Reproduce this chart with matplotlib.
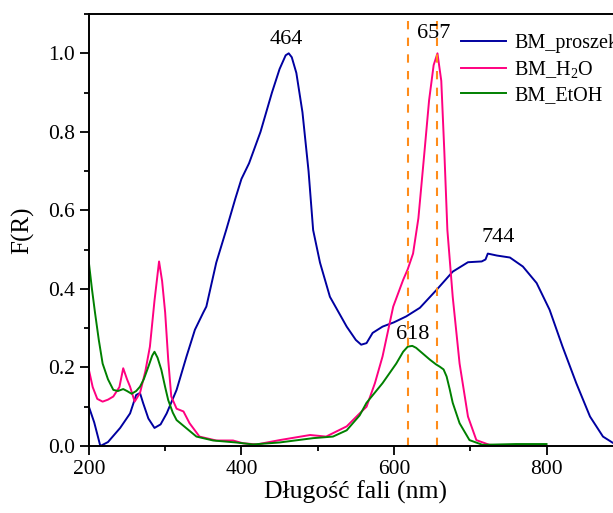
import matplotlib
matplotlib.use("Agg")
import matplotlib.pyplot as plt
from matplotlib.ticker import MultipleLocator

plt.rcParams['font.family'] = ['Liberation Serif', 'DejaVu Serif']
plt.rcParams['mathtext.fontset'] = 'custom'
plt.rcParams['mathtext.rm'] = 'Liberation Serif'
plt.rcParams['mathtext.it'] = 'Liberation Serif:italic'

# wavelength (nm) / F(R)
proszek_x = [200, 207, 215, 225, 241, 254, 262, 267, 271, 278, 286, 294, 302, 315, 328, 339, 350, 354,
             367, 380, 392, 400, 410, 425, 440, 450, 458, 462, 466, 472, 480, 488, 494, 503, 516, 538,
             550, 557, 564, 572, 585, 600, 616, 634, 656, 677, 697, 715, 720, 723, 735, 752, 769, 787,
             804, 821, 839, 857, 874, 887, 900]
proszek_y = [0.10, 0.06, 0.0, 0.01, 0.046, 0.083, 0.13, 0.135, 0.11, 0.07, 0.046, 0.055, 0.083, 0.143,
             0.228, 0.296, 0.34, 0.355, 0.467, 0.55, 0.63, 0.68, 0.72, 0.80, 0.90, 0.96, 0.995, 1.0,
             0.99, 0.95, 0.85, 0.70, 0.55, 0.467, 0.38, 0.304, 0.27, 0.258, 0.262, 0.288, 0.304, 0.315,
             0.33, 0.352, 0.398, 0.444, 0.468, 0.47, 0.475, 0.49, 0.485, 0.48, 0.457, 0.415, 0.347,
             0.253, 0.16, 0.075, 0.024, 0.008, 0.0]

h2o_x = [200, 205, 211, 218, 225, 232, 240, 245, 250, 254, 260, 267, 274, 280, 286, 292, 296, 300, 304,
         308, 315, 324, 332, 345, 367, 389, 402, 420, 450, 490, 511, 538, 555, 564, 575, 585, 599, 612,
         618, 625, 632, 640, 646, 652, 657, 662, 666, 670, 677, 686, 697, 708, 725, 760, 800]
h2o_y = [0.194, 0.15, 0.12, 0.113, 0.118, 0.126, 0.15, 0.198, 0.17, 0.151, 0.113, 0.135, 0.19, 0.253,
         0.37, 0.47, 0.42, 0.34, 0.22, 0.126, 0.095, 0.088, 0.058, 0.024, 0.014, 0.014, 0.007, 0.004,
         0.015, 0.028, 0.024, 0.05, 0.083, 0.1, 0.16, 0.228, 0.355, 0.423, 0.45, 0.49, 0.58, 0.75, 0.88,
         0.97, 1.0, 0.93, 0.75, 0.55, 0.38, 0.21, 0.075, 0.015, 0.003, 0.0, 0.0]

etoh_x = [200, 204, 208, 213, 218, 225, 232, 238, 245, 250, 256, 262, 267, 272, 278, 283, 286, 290, 295,
          300, 304, 310, 315, 328, 341, 363, 393, 415, 450, 494, 520, 538, 555, 564, 585, 603, 612, 618,
          624, 629, 638, 647, 655, 660, 665, 669, 673, 677, 686, 699, 716, 760, 800]
etoh_y = [0.467, 0.40, 0.34, 0.27, 0.21, 0.17, 0.143, 0.14, 0.145, 0.14, 0.133, 0.14, 0.151, 0.17,
          0.202, 0.23, 0.24, 0.225, 0.194, 0.15, 0.117, 0.085, 0.066, 0.045, 0.024, 0.014, 0.009, 0.004,
          0.009, 0.02, 0.024, 0.04, 0.078, 0.11, 0.16, 0.21, 0.24, 0.253, 0.255, 0.25, 0.235, 0.22, 0.208,
          0.202, 0.195, 0.177, 0.145, 0.11, 0.058, 0.015, 0.003, 0.005, 0.005]

peak_lines = [618, 657]
peak_labels = ['464', '657', '618', '744']
peak_label_pos = [(459, 1.036), (652, 1.051), (624, 0.285), (736, 0.53)]

fig = plt.figure(figsize=(6.13, 5.13), dpi=100)
ax = fig.add_axes([0.145, 0.1306, 0.871, 0.842])

ax.plot(proszek_x, proszek_y, color='#0000a0', lw=1.4, label='BM_proszek')
ax.plot(h2o_x, h2o_y, color='#ff0080', lw=1.4, label='BM_H$_2$O')
ax.plot(etoh_x, etoh_y, color='#008000', lw=1.4, label='BM_EtOH')

for xv in peak_lines:
    ax.axvline(xv, color='#ff8c1a', lw=1.5, ls=(0, (4, 4)))

for txt, (px, py) in zip(peak_labels, peak_label_pos):
    ax.text(px, py, txt, ha='center', va='center', fontsize=16)

ax.set_xlim(200, 900)
ax.set_ylim(0, 1.1)
ax.xaxis.set_major_locator(MultipleLocator(200))
ax.xaxis.set_minor_locator(MultipleLocator(100))
ax.yaxis.set_major_locator(MultipleLocator(0.2))
ax.yaxis.set_minor_locator(MultipleLocator(0.1))
ax.yaxis.set_major_formatter(matplotlib.ticker.FormatStrFormatter('%.1f'))
ax.tick_params(which='major', length=6.5, width=1.3, labelsize=15.5, pad=3.5)
ax.tick_params(which='minor', length=3.5, width=1.3)
for s in ax.spines.values():
    s.set_linewidth(1.4)

ax.set_xlabel('Długość fali (nm)', fontsize=18.5, labelpad=1)
ax.set_ylabel('F(R)', fontsize=18, labelpad=10)

ax.legend(loc='upper left', bbox_to_anchor=(0.722, 0.97), bbox_transform=fig.transFigure,
          frameon=False, fontsize=14.5, handlelength=2.25, handletextpad=0.4, labelspacing=0.3)

fig.savefig('out.png', dpi=100)
